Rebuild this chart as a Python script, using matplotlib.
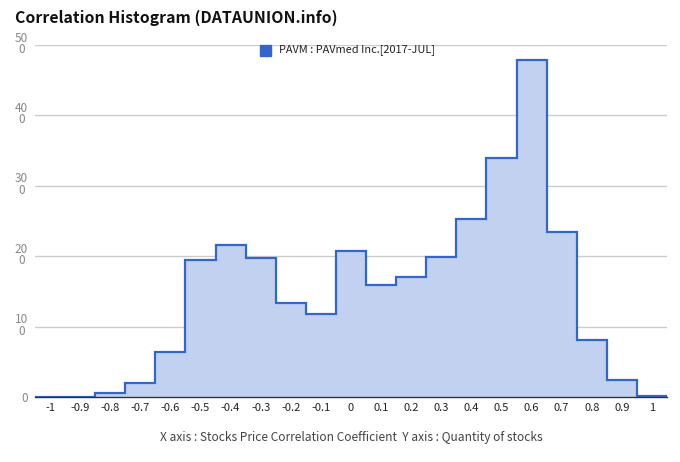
import numpy as np
import matplotlib
matplotlib.use("Agg")
import matplotlib.pyplot as plt

plt.rcParams['font.family'] = ['Noto Sans CJK KR', 'DejaVu Sans']

# histogram bins centred on -1.0 ... 1.0, step 0.1
bin_centers = [-1.0, -0.9, -0.8, -0.7, -0.6, -0.5, -0.4, -0.3, -0.2, -0.1, 0.0,
               0.1, 0.2, 0.3, 0.4, 0.5, 0.6, 0.7, 0.8, 0.9, 1.0]
counts = [0, 0, 5, 20, 64, 195, 216, 198, 133, 118, 208,
          159, 171, 199, 253, 340, 478, 234, 81, 24, 2]
x_labels = ['-1', '-0.9', '-0.8', '-0.7', '-0.6', '-0.5', '-0.4', '-0.3', '-0.2', '-0.1', '0',
            '0.1', '0.2', '0.3', '0.4', '0.5', '0.6', '0.7', '0.8', '0.9', '1']
y_ticks = [0, 100, 200, 300, 400, 500]
y_labels = ['0', '10\n0', '20\n0', '30\n0', '40\n0', '50\n0']
series_name = 'PAVM : PAVmed Inc.[2017-JUL]'

line_c = '#3366cc'
fill_c = '#c2d1f0'

fig = plt.figure(figsize=(6.8, 4.62), dpi=100)
ax = fig.add_axes([35 / 680, 1 - 397 / 462, 632 / 680, 352 / 462])

edges = np.append(np.array(bin_centers) - 0.05, bin_centers[-1] + 0.05)
ax.stairs(counts, edges, fill=True, color=fill_c, zorder=2)
ax.stairs(counts, edges, color=line_c, linewidth=1.6, zorder=3)

ax.set_xlim(edges[0], edges[-1])
ax.set_ylim(0, 500)
ax.set_xticks(bin_centers)
ax.set_xticklabels(x_labels, fontsize=8, color='#222222')
ax.set_yticks(y_ticks)
ax.set_yticklabels(y_labels, fontsize=8.5, color='#888888', linespacing=0.85,
                   multialignment='center')
ax.tick_params(axis='both', length=0)
ax.tick_params(axis='x', pad=4)
ax.tick_params(axis='y', pad=5)
for lbl in ax.get_yticklabels()[1:]:
    lbl.set_y(lbl.get_position()[1])
    lbl.set_transform(lbl.get_transform() + matplotlib.transforms.ScaledTranslation(0, 2 / 100, fig.dpi_scale_trans))
ax.grid(axis='y', color='#cccccc', linewidth=1, zorder=1)
ax.set_axisbelow(True)
for s in ['top', 'right', 'left']:
    ax.spines[s].set_visible(False)
ax.spines['bottom'].set_color('#333333')
ax.spines['bottom'].set_linewidth(1)
ax.spines['bottom'].set_zorder(4)

fig.text(15 / 680, 1 - 18 / 462, 'Correlation Histogram (DATAUNION.info)',
         fontsize=11.4, fontweight='bold', va='center', ha='left', color='#111111')

# legend
fig.patches.append(plt.Rectangle((260 / 680, 1 - 56 / 462), 11 / 680, 11 / 462,
                                 transform=fig.transFigure, color=line_c))
fig.text(279 / 680, 1 - 50 / 462, series_name, fontsize=7.9, va='center', ha='left',
         color='#222222')

fig.text(351 / 680, 1 - 437 / 462,
         'X axis : Stocks Price Correlation Coefficient  Y axis : Quantity of stocks',
         fontsize=8.6, ha='center', va='center', color='#444444')

fig.savefig('out.png', dpi=100)
